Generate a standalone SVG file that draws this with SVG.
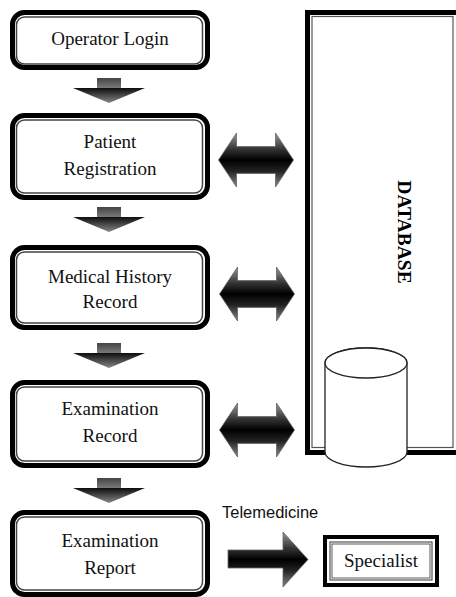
<svg xmlns="http://www.w3.org/2000/svg" width="456" height="597" viewBox="0 0 456 597">
  <style>
    .frame { fill: #fff; stroke: #000; stroke-width: 5; }
    .inner { fill: none; stroke: #444; stroke-width: 1.5; }
    .label { font-family: 'Liberation Serif', 'Times New Roman', 'DejaVu Serif', serif; font-size: 19px; font-weight: normal; fill: #111; text-anchor: middle; }
    .db-label { font-family: 'Liberation Serif', 'Times New Roman', serif; font-size: 19.5px; font-weight: bold; fill: #000; text-anchor: middle; }
    .sans { font-family: 'Liberation Sans', Arial, sans-serif; font-size: 16.5px; fill: #111; }
    .cyl { fill: #fff; stroke: #222; stroke-width: 1.3; }
  </style>
  <defs>
    <linearGradient id="downGrad" x1="0" y1="0" x2="0" y2="1">
      <stop offset="0" stop-color="#444"/>
      <stop offset="0.38" stop-color="#777"/>
      <stop offset="0.42" stop-color="#111"/>
      <stop offset="1" stop-color="#888"/>
    </linearGradient>
    <linearGradient id="sideGrad" x1="0" y1="0" x2="0" y2="1">
      <stop offset="0" stop-color="#999"/>
      <stop offset="0.3" stop-color="#333"/>
      <stop offset="0.5" stop-color="#000"/>
      <stop offset="0.7" stop-color="#222"/>
      <stop offset="1" stop-color="#888"/>
    </linearGradient>
    <path id="downArrow" d="M97,0 H121 V10 H145 L109,25 L73,10 H97 Z"/>
    <path id="twoWay" d="M-37.5,0 L-19.5,-27 L-19.5,-13.5 L19.5,-13.5 L19.5,-27 L37.5,0 L19.5,27 L19.5,13.5 L-19.5,13.5 L-19.5,27 Z"/>
  </defs>

  <!-- database column -->
  <g id="database">
    <rect x="307.5" y="12.5" width="160" height="440" fill="#fff" stroke="#000" stroke-width="5"/>
    <rect x="312" y="16.5" width="141" height="431" fill="none" stroke="#555" stroke-width="1.2"/>
    <text class="db-label" transform="translate(405,232) rotate(90)" dy="7">DATABASE</text>
    <path class="cyl" d="M325,363 V452 A41,15 0 0 0 407,452 V363 A41,15 0 0 0 325,363 Z"/>
    <ellipse class="cyl" cx="366" cy="363" rx="41" ry="15"/>
  </g>

  <!-- process steps -->
  <g id="operator-login">
    <rect class="frame" x="12.5" y="12.5" width="195" height="55" rx="12"/>
    <rect class="inner" x="16.5" y="17" width="186" height="47" rx="8"/>
    <text class="label" x="110" y="45">Operator Login</text>
  </g>
  <g id="patient-registration">
    <rect class="frame" x="12.5" y="115.5" width="195" height="82" rx="12"/>
    <rect class="inner" x="16.5" y="120" width="186" height="73" rx="8"/>
    <text class="label" x="110" y="148">Patient</text>
    <text class="label" x="110" y="175">Registration</text>
  </g>
  <g id="medical-history">
    <rect class="frame" x="12.5" y="247.5" width="195" height="80" rx="12"/>
    <rect class="inner" x="16.5" y="252" width="186" height="71" rx="8"/>
    <text class="label" x="110" y="283">Medical History</text>
    <text class="label" x="110" y="308">Record</text>
  </g>
  <g id="examination-record">
    <rect class="frame" x="12.5" y="382.5" width="195" height="83" rx="12"/>
    <rect class="inner" x="16.5" y="387" width="186" height="74" rx="8"/>
    <text class="label" x="110" y="415">Examination</text>
    <text class="label" x="110" y="442">Record</text>
  </g>
  <g id="examination-report">
    <rect class="frame" x="12.5" y="512.5" width="195" height="82" rx="12"/>
    <rect class="inner" x="16.5" y="517" width="186" height="73" rx="8"/>
    <text class="label" x="110" y="547">Examination</text>
    <text class="label" x="110" y="574">Report</text>
  </g>
  <g id="specialist">
    <rect x="325" y="537" width="112" height="48" fill="#fff" stroke="#000" stroke-width="4"/>
    <rect x="330" y="542" width="102" height="38" fill="none" stroke="#333" stroke-width="1"/>
    <rect x="332" y="544" width="98" height="34" fill="none" stroke="#333" stroke-width="0.8"/>
    <text class="label" x="381" y="567">Specialist</text>
  </g>

  <!-- connectors -->
  <g id="connectors">
    <use href="#downArrow" y="78" fill="url(#downGrad)"/>
    <use href="#downArrow" y="207" fill="url(#downGrad)"/>
    <use href="#downArrow" y="343" fill="url(#downGrad)"/>
    <use href="#downArrow" y="478" fill="url(#downGrad)"/>
    <use href="#twoWay" x="256" y="160" fill="url(#sideGrad)" stroke="#666" stroke-width="0.8"/>
    <use href="#twoWay" x="257" y="294" fill="url(#sideGrad)" stroke="#666" stroke-width="0.8"/>
    <use href="#twoWay" x="257" y="430" fill="url(#sideGrad)" stroke="#666" stroke-width="0.8"/>
    <path d="M228,550 H283 V532 L308,559.5 L283,587 V568 H228 Z" fill="url(#sideGrad)" stroke="#666" stroke-width="0.8"/>
    <text class="sans" x="222" y="518">Telemedicine</text>
  </g>
</svg>
